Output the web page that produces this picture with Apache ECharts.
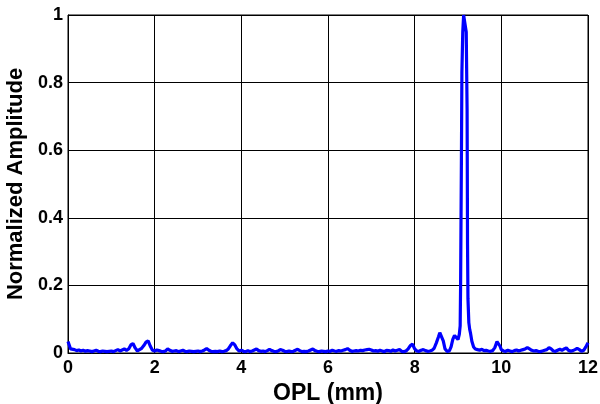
<!DOCTYPE html>
<html>
<head>
<meta charset="utf-8">
<script src="https://cdn.jsdelivr.net/npm/echarts@6/dist/echarts.min.js"></script>
<style>
  html, body { margin: 0; padding: 0; background: #fff; }
  #chart { width: 600px; height: 404px; }
</style>
</head>
<body>
<div id="chart"></div>
<script>
// Optical path length (mm) and normalized amplitude of the spectrum
const oplMm = [
  0.00, 0.03, 0.06, 0.10, 0.15, 0.20, 0.25, 0.30, 0.35, 0.40, 0.45, 0.50, 0.55, 0.60, 0.65, 0.70, 0.75, 0.80, 0.85, 0.90, 0.95,
  1.00, 1.05, 1.10, 1.15, 1.20, 1.25, 1.30, 1.35, 1.40, 1.45, 1.50, 1.55, 1.60, 1.65, 1.70, 1.75, 1.80, 1.85, 1.90, 1.95,
  2.00, 2.05, 2.10, 2.15, 2.20, 2.25, 2.30, 2.35, 2.40, 2.45, 2.50, 2.55, 2.60, 2.65, 2.70, 2.75, 2.80, 2.85, 2.90, 2.95,
  3.00, 3.05, 3.10, 3.15, 3.20, 3.25, 3.30, 3.35, 3.40, 3.45, 3.50, 3.55, 3.60, 3.65, 3.70, 3.75, 3.80, 3.85, 3.90, 3.95,
  4.00, 4.05, 4.10, 4.15, 4.20, 4.25, 4.30, 4.35, 4.40, 4.45, 4.50, 4.55, 4.60, 4.65, 4.70, 4.75, 4.80, 4.85, 4.90, 4.95,
  5.00, 5.05, 5.10, 5.15, 5.20, 5.25, 5.30, 5.35, 5.40, 5.45, 5.50, 5.55, 5.60, 5.65, 5.70, 5.75, 5.80, 5.85, 5.90, 5.95,
  6.00, 6.05, 6.10, 6.15, 6.20, 6.25, 6.30, 6.35, 6.40, 6.45, 6.50, 6.55, 6.60, 6.65, 6.70, 6.75, 6.80, 6.85, 6.90, 6.95,
  7.00, 7.05, 7.10, 7.15, 7.20, 7.25, 7.30, 7.35, 7.40, 7.45, 7.50, 7.55, 7.60, 7.65, 7.70, 7.75, 7.80, 7.85, 7.90, 7.95,
  8.00, 8.05, 8.10, 8.15, 8.20, 8.25, 8.30, 8.35, 8.40, 8.45, 8.50, 8.55, 8.58, 8.62, 8.66, 8.70, 8.75, 8.80, 8.84, 8.88,
  8.92, 8.96, 9.00, 9.03, 9.05, 9.06, 9.08, 9.09, 9.11, 9.13, 9.17, 9.19, 9.21, 9.22, 9.23, 9.25, 9.27, 9.29, 9.32, 9.36, 9.40, 9.45,
  9.50, 9.55, 9.60, 9.65, 9.70, 9.75, 9.80, 9.85, 9.90, 9.93, 9.97,
  10.00, 10.05, 10.10, 10.15, 10.20, 10.25, 10.30, 10.35, 10.40, 10.45, 10.50, 10.55, 10.60, 10.65, 10.70, 10.75, 10.80, 10.85, 10.90, 10.95,
  11.00, 11.05, 11.10, 11.15, 11.20, 11.25, 11.30, 11.35, 11.40, 11.45, 11.50, 11.55, 11.60, 11.65, 11.70, 11.75, 11.80, 11.85, 11.90, 11.95,
  12.00
];
const amplitude = [
  0.034, 0.030, 0.012, 0.008, 0.010, 0.007, 0.009, 0.006, 0.008, 0.005, 0.007, 0.006, 0.004, 0.006, 0.008, 0.005, 0.004, 0.006, 0.005, 0.004, 0.005,
  0.006, 0.004, 0.007, 0.010, 0.006, 0.009, 0.012, 0.008, 0.012, 0.024, 0.028, 0.015, 0.006, 0.010, 0.014, 0.022, 0.032, 0.036, 0.020, 0.008,
  0.006, 0.009, 0.007, 0.005, 0.004, 0.006, 0.012, 0.008, 0.005, 0.006, 0.007, 0.004, 0.006, 0.008, 0.005, 0.004, 0.006, 0.005, 0.004, 0.005,
  0.006, 0.004, 0.006, 0.009, 0.013, 0.008, 0.005, 0.004, 0.005, 0.004, 0.006, 0.004, 0.005, 0.007, 0.012, 0.022, 0.030, 0.024, 0.012, 0.006,
  0.008, 0.005, 0.004, 0.007, 0.004, 0.006, 0.009, 0.012, 0.007, 0.005, 0.006, 0.004, 0.007, 0.011, 0.007, 0.005, 0.004, 0.006, 0.010, 0.008,
  0.005, 0.004, 0.006, 0.004, 0.005, 0.008, 0.011, 0.007, 0.004, 0.005, 0.004, 0.006, 0.009, 0.012, 0.007, 0.005, 0.004, 0.006, 0.005, 0.004,
  0.006, 0.005, 0.008, 0.006, 0.005, 0.007, 0.006, 0.008, 0.010, 0.013, 0.008, 0.005, 0.006, 0.007, 0.006, 0.008, 0.007, 0.009, 0.010, 0.011,
  0.009, 0.006, 0.007, 0.005, 0.008, 0.006, 0.004, 0.008, 0.007, 0.005, 0.009, 0.006, 0.008, 0.010, 0.005, 0.004, 0.006, 0.012, 0.022, 0.026,
  0.012, 0.006, 0.005, 0.008, 0.010, 0.007, 0.005, 0.006, 0.008, 0.014, 0.030, 0.048, 0.060, 0.058, 0.036, 0.012, 0.005, 0.006, 0.018, 0.040,
  0.052, 0.048, 0.040, 0.055, 0.080, 0.200, 0.600, 0.830, 0.950, 1.000, 1.000, 0.950, 0.720, 0.320, 0.160, 0.090, 0.070, 0.058, 0.035, 0.018, 0.012, 0.010,
  0.008, 0.011, 0.007, 0.008, 0.006, 0.005, 0.007, 0.016, 0.034, 0.036, 0.020,
  0.010, 0.006, 0.005, 0.008, 0.006, 0.004, 0.007, 0.009, 0.006, 0.008, 0.010, 0.012, 0.016, 0.012, 0.008, 0.006, 0.007, 0.005, 0.004, 0.006,
  0.008, 0.010, 0.016, 0.012, 0.006, 0.005, 0.008, 0.011, 0.008, 0.012, 0.015, 0.008, 0.005, 0.007, 0.010, 0.014, 0.010, 0.005, 0.008, 0.018,
  0.030
];
const xTicks = [0, 2, 4, 6, 8, 10, 12];
const yTicks = [0, 0.2, 0.4, 0.6, 0.8, 1];

const chart = echarts.init(document.getElementById('chart'), null, { renderer: 'canvas' });
const labelFont = { color: '#000', fontFamily: 'Liberation Sans, Arial, sans-serif', fontWeight: 'bold' };

chart.setOption({
  animation: false,
  backgroundColor: '#fff',
  grid: {
    left: 68, right: 12, top: 15, bottom: 51,
    outerBoundsMode: 'none', containLabel: false,
    show: true, borderColor: '#000', borderWidth: 1, backgroundColor: 'transparent'
  },
  xAxis: {
    type: 'value',
    min: xTicks[0], max: xTicks[xTicks.length - 1], interval: 2,
    name: 'OPL (mm)', nameLocation: 'middle', nameGap: 24,
    nameTextStyle: Object.assign({ fontSize: 23 }, labelFont),
    axisLine: { show: true, onZero: false, lineStyle: { color: '#000', width: 1 } },
    axisTick: { show: true, inside: true, length: 4, lineStyle: { color: '#000' } },
    axisLabel: Object.assign({ fontSize: 18, margin: 6 }, labelFont),
    splitLine: { show: true, lineStyle: { color: '#000', width: 1 } }
  },
  yAxis: {
    type: 'value',
    min: yTicks[0], max: yTicks[yTicks.length - 1], interval: 0.2,
    name: 'Normalized Amplitude', nameLocation: 'middle', nameGap: 34,
    nameTextStyle: Object.assign({ fontSize: 22 }, labelFont),
    axisLine: { show: true, onZero: false, lineStyle: { color: '#000', width: 1 } },
    axisTick: { show: true, inside: true, length: 4, lineStyle: { color: '#000' } },
    axisLabel: Object.assign({ fontSize: 18, margin: 5 }, labelFont),
    splitLine: { show: true, lineStyle: { color: '#000', width: 1 } }
  },
  series: [{
    type: 'line',
    data: oplMm.map((x, i) => [x, amplitude[i]]),
    showSymbol: false,
    clip: true,
    lineStyle: { color: '#0000ff', width: 3.2 },
    itemStyle: { color: '#0000ff' }
  }]
});
</script>
</body>
</html>
